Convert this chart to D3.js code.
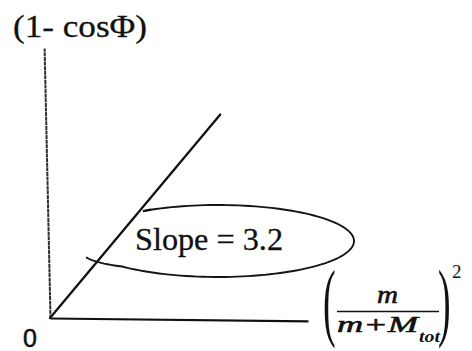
<!DOCTYPE html>
<html>
<head>
<meta charset="utf-8">
<script src="https://cdn.jsdelivr.net/npm/d3@7"></script>
<style>
  html, body { margin: 0; padding: 0; background: #fff; }
  svg { display: block; }
</style>
</head>
<body>
<div id="chart"></div>
<script>
// Linear fit of (1 - cosΦ) against (m / (m + M_tot))^2
const lineX = [0, 0.066];
const lineY = [0, 0.211];
const slopeValue = 3.2;
const originLabel = "0";
const yLabel = "(1- cosΦ)";
const slopeLabel = "Slope = " + slopeValue;

const W = 472, H = 351;
const svg = d3.select("#chart").append("svg")
  .attr("width", W).attr("height", H)
  .attr("viewBox", `0 0 ${W} ${H}`);

const x = d3.scaleLinear().domain([0, 0.1]).range([50, 308]);
const y = d3.scaleLinear().domain([0, 0.28]).range([318, 48]);

const serif = "'Liberation Serif', 'Times New Roman', serif";

// y axis: plain spine, no ticks
const gy = svg.append("g")
  .attr("transform", `rotate(-1.25, ${x(0)}, ${y(0)}) translate(${x(0)},0)`)
  .call(d3.axisLeft(y).tickValues([]).tickSizeOuter(0));
gy.select(".domain")
  .attr("stroke", "#2e2e2e").attr("stroke-width", 2)
  .attr("stroke-dasharray", "4,0.6");

// x axis: plain spine, no ticks
const gx = svg.append("g")
  .attr("transform", `rotate(0.65, ${x(0)}, ${y(0)}) translate(0,${y(0)})`)
  .call(d3.axisBottom(x).tickValues([]).tickSizeOuter(0));
gx.select(".domain")
  .attr("stroke", "#111").attr("stroke-width", 2.2);

// fitted line
const pts = lineX.map((v, i) => [v, lineY[i]]);
svg.append("path")
  .datum(pts)
  .attr("fill", "none")
  .attr("stroke", "#111")
  .attr("stroke-width", 2.3)
  .attr("stroke-linecap", "round")
  .attr("d", d3.line().x(d => x(d[0])).y(d => y(d[1])));

// open loop drawn around the slope annotation
const cx = 218, cy = 241, rx = 136, ry = 36;
const t0 = -122 * Math.PI / 180, t1 = 166 * Math.PI / 180;
const loop = d3.range(0, 121).map(i => {
  const t = t0 + (t1 - t0) * i / 120;
  const extra = t > Math.PI * 0.75 ? (t - Math.PI * 0.75) * 14 : 0;
  return [cx + rx * Math.cos(t), cy + ry * Math.sin(t) + extra];
});
svg.append("path")
  .attr("fill", "none")
  .attr("stroke", "#151515")
  .attr("stroke-width", 1.9)
  .attr("d", d3.line()(loop));
// small pen tick where the loop starts
svg.append("path")
  .attr("fill", "none").attr("stroke", "#111").attr("stroke-width", 2.4)
  .attr("d", d3.line()([[loop[0][0] - 3, loop[0][1] + 0.6], [loop[0][0] + 5, loop[0][1] - 0.8]]));

// slope annotation
svg.append("text")
  .attr("x", 135).attr("y", 250)
  .attr("font-family", serif).attr("font-size", 32)
  .attr("textLength", 148).attr("lengthAdjust", "spacingAndGlyphs")
  .attr("fill", "#111").attr("stroke", "#111").attr("stroke-width", 0.3)
  .text(slopeLabel);

// y axis title
svg.append("text")
  .attr("x", 13).attr("y", 37)
  .attr("font-family", serif).attr("font-size", 32)
  .attr("textLength", 134).attr("lengthAdjust", "spacingAndGlyphs")
  .attr("fill", "#111").attr("stroke", "#111").attr("stroke-width", 0.3)
  .text(yLabel);

// origin label
svg.append("text")
  .attr("x", 23).attr("y", 347)
  .attr("font-family", "'Liberation Sans', Arial, sans-serif").attr("font-size", 25)
  .attr("fill", "#111").attr("stroke", "#111").attr("stroke-width", 0.5)
  .text(originLabel);

// x axis title: (m / (m + M_tot))^2
const fx = svg.append("g").attr("fill", "#111").attr("font-family", serif);
fx.append("text")
  .attr("x", 323).attr("y", 0)
  .attr("transform", "translate(0,330) scale(1,2.3)")
  .attr("font-size", 38)
  .text("(");
fx.append("text")
  .attr("x", 438).attr("y", 0)
  .attr("transform", "translate(0,330) scale(1,2.3)")
  .attr("font-size", 38)
  .text(")");
fx.append("text")
  .attr("x", 377).attr("y", 303)
  .attr("font-style", "italic").attr("font-size", 25)
  .attr("stroke", "#111").attr("stroke-width", 0.6)
  .attr("textLength", 21).attr("lengthAdjust", "spacingAndGlyphs")
  .text("m");
fx.append("line")
  .attr("x1", 337).attr("x2", 439).attr("y1", 311.5).attr("y2", 311.5)
  .attr("stroke", "#111").attr("stroke-width", 1.6);
fx.append("text")
  .attr("x", 337).attr("y", 332)
  .attr("font-style", "italic").attr("font-size", 24)
  .attr("stroke", "#111").attr("stroke-width", 0.6)
  .attr("textLength", 81).attr("lengthAdjust", "spacingAndGlyphs")
  .text("m+M");
fx.append("text")
  .attr("x", 419).attr("y", 342)
  .attr("font-style", "italic").attr("font-weight", "bold").attr("font-size", 16)
  .attr("textLength", 21).attr("lengthAdjust", "spacingAndGlyphs")
  .text("tot");
fx.append("text")
  .attr("x", 452).attr("y", 278)
  .attr("font-size", 19)
  .text("2");
</script>
</body>
</html>
